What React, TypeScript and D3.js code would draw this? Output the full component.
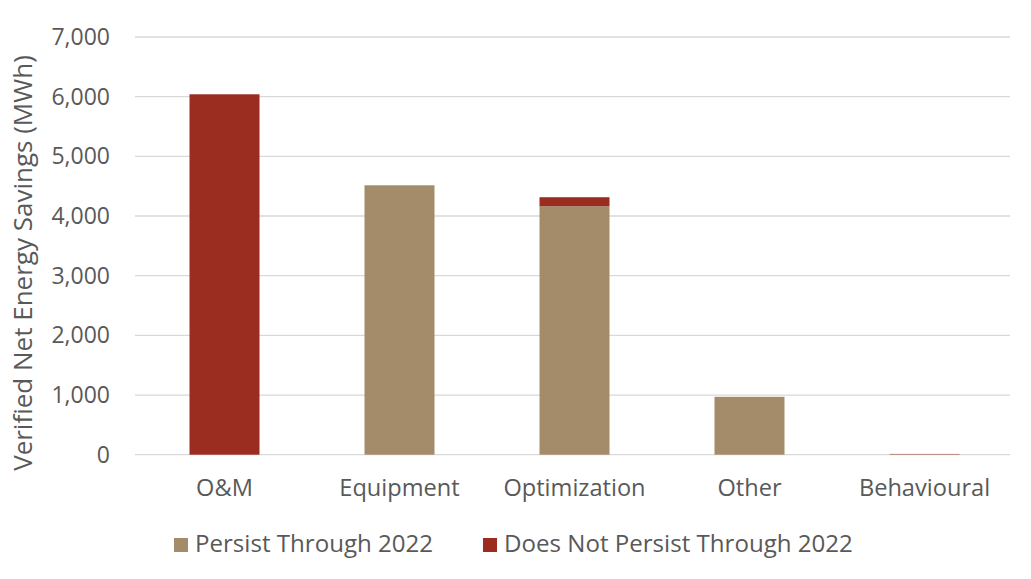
import * as d3 from "d3";
import { useEffect, useRef } from "react";

const categories = ["O&M", "Equipment", "Optimization", "Other", "Behavioural"];
const persist = [0, 4515, 4165, 970, 8];
const notPersist = [6040, 0, 150, 0, 5];
const seriesNames = ["Persist Through 2022", "Does Not Persist Through 2022"];
const yTicks = [0, 1000, 2000, 3000, 4000, 5000, 6000, 7000];

const colors = ["#a48b69", "#9b2d20"];

const App = () => {
  const ref = useRef<SVGSVGElement>(null);

  useEffect(() => {
    const width = 1031;
    const height = 579;
    const margin = { top: 37, right: 21, bottom: 125, left: 135 };

    const svg = d3.select(ref.current);
    svg.selectAll("*").remove();
    svg.attr("width", width).attr("height", height);

    // band range nudged 2px right to line bars up with the reference
    const x = d3
      .scaleBand()
      .domain(categories)
      .range([margin.left + 2, width - margin.right + 2])
      .paddingInner(0.6)
      .paddingOuter(0.3);

    const y = d3
      .scaleLinear()
      .domain([0, 7000])
      .range([height - margin.bottom + 0.7, margin.top]);

    const font = "'Open Sans', sans-serif";
    const textColor = "#595959";

    // gridlines
    svg.append("g")
      .selectAll("line")
      .data(yTicks)
      .enter()
      .append("line")
      .attr("x1", margin.left)
      .attr("x2", width - margin.right)
      .attr("y1", (d) => y(d))
      .attr("y2", (d) => y(d))
      .attr("stroke", "#d9d9d9")
      .attr("stroke-width", 1.3);

    // y tick labels
    svg.append("g")
      .selectAll("text")
      .data(yTicks)
      .enter()
      .append("text")
      .attr("x", 110)
      .attr("y", (d) => y(d))
      .attr("dy", "0.35em")
      .attr("text-anchor", "end")
      .attr("font-family", font)
      .attr("font-size", "23px")
      .attr("fill", textColor)
      .text((d) => d3.format(",")(d));

    // stacked bars
    const rows = categories.map((c, i) => ({ cat: c, p: persist[i], n: notPersist[i] }));
    const stack = d3.stack<any>().keys(["p", "n"])(rows);

    stack.forEach((layer, li) => {
      svg.append("g")
        .selectAll("rect")
        .data(layer)
        .enter()
        .append("rect")
        .attr("x", (d: any) => x(d.data.cat) as number)
        .attr("width", x.bandwidth())
        .attr("y", (d) => y(d[1]))
        .attr("height", (d) => Math.max(0, y(d[0]) - y(d[1])))
        .attr("fill", colors[li]);
    });

    // x labels
    svg.append("g")
      .selectAll("text")
      .data(categories)
      .enter()
      .append("text")
      .attr("x", (d) => (x(d) as number) + x.bandwidth() / 2)
      .attr("y", 496)
      .attr("text-anchor", "middle")
      .attr("font-family", font)
      .attr("font-size", "23.6px")
      .attr("fill", textColor)
      .text((d) => d);

    // y axis title
    svg.append("text")
      .attr("transform", "translate(32," + 263 + ") rotate(-90)")
      .attr("text-anchor", "middle")
      .attr("font-family", font)
      .attr("font-size", "26px")
      .attr("fill", textColor)
      .text("Verified Net Energy Savings (MWh)");

    // legend
    const legendX = [174, 483];
    seriesNames.forEach((name, i) => {
      svg.append("rect")
        .attr("x", legendX[i])
        .attr("y", 538)
        .attr("width", 14)
        .attr("height", 14)
        .attr("fill", colors[i]);
      svg.append("text")
        .attr("x", legendX[i] + 21)
        .attr("y", 552)
        .attr("font-family", font)
        .attr("font-size", "24.1px")
        .attr("fill", textColor)
        .text(name);
    });
  }, []);

  return (
    <div style={{ margin: -8 }}>
      <svg ref={ref} style={{ display: "block" }} />
    </div>
  );
};

export default App;
